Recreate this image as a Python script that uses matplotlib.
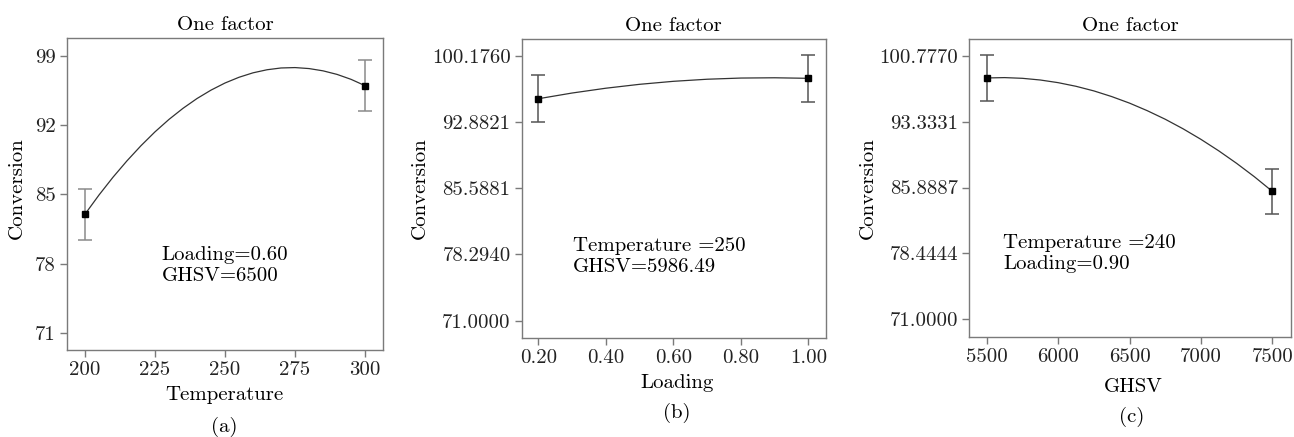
import numpy as np
import matplotlib
matplotlib.use("Agg")
import matplotlib.pyplot as plt

# =========================
# Data
# =========================
# (a) Temperature, Loading=0.60, GHSV=6500
temp_pts = [200, 300]
temp_conv = [83.0, 96.0]
temp_err = [2.6, 2.6]
temp_curve_x = [200, 205, 210, 215, 220, 225, 230, 235, 240, 245, 250,
                255, 260, 265, 270, 275, 280, 285, 290, 295, 300]
temp_curve_y = [83.00, 84.94, 86.74, 88.40, 89.93, 91.33, 92.59, 93.71, 94.70,
                95.55, 96.27, 96.85, 97.30, 97.61, 97.79, 97.83, 97.73, 97.50,
                97.14, 96.64, 96.00]
temp_yticks = [71, 78, 85, 92, 99]
temp_xticks = [200, 225, 250, 275, 300]

# (b) Loading, Temperature=250, GHSV=5986.49
load_pts = [0.20, 1.00]
load_conv = [95.44, 97.69]
load_err = [2.57, 2.57]
load_curve_x = [0.2, 0.3, 0.4, 0.5, 0.6, 0.7, 0.8, 0.9, 1.0]
load_curve_y = [95.44, 96.07, 96.60, 97.03, 97.36, 97.59, 97.72, 97.75, 97.69]
load_yticks = [71.0000, 78.2940, 85.5881, 92.8821, 100.1760]
load_xticks = [0.20, 0.40, 0.60, 0.80, 1.00]

# (c) GHSV, Temperature=240, Loading=0.90
ghsv_pts = [5500, 7500]
ghsv_conv = [98.26, 85.46]
ghsv_err = [2.56, 2.56]
ghsv_curve_x = [5500, 5625, 5750, 5875, 6000, 6125, 6250, 6375, 6500,
                6625, 6750, 6875, 7000, 7125, 7250, 7375, 7500]
ghsv_curve_y = [98.26, 98.30, 98.22, 98.03, 97.73, 97.32, 96.80, 96.16, 95.42,
                94.56, 93.60, 92.52, 91.33, 90.03, 88.62, 87.10, 85.46]
ghsv_yticks = [71.0000, 78.4444, 85.8887, 93.3331, 100.7770]
ghsv_xticks = [5500, 6000, 6500, 7000, 7500]

plt.rcParams["font.family"] = "serif"
plt.rcParams["font.serif"] = ["cmr10", "DejaVu Serif"]
plt.rcParams["mathtext.fontset"] = "cm"
plt.rcParams["axes.formatter.use_mathtext"] = True

W, H = 1294, 437
fig = plt.figure(figsize=(W / 100, H / 100), dpi=100)

FS = 15      # ticks, labels, title, notes
SPINE = "#7a7a7a"


def px_axes(l, t, r, b):
    return fig.add_axes([l / W, 1 - b / H, (r - l) / W, (b - t) / H])


def style(ax, xticks, xlabels, yticks, ylabels, xlim, ylim):
    ax.set_xlim(*xlim)
    ax.set_ylim(*ylim)
    ax.set_xticks(xticks)
    ax.set_xticklabels(xlabels)
    ax.set_yticks(yticks)
    ax.set_yticklabels(ylabels)
    for s in ax.spines.values():
        s.set_color(SPINE)
        s.set_linewidth(1.0)
    ax.tick_params(direction="out", length=5, width=1, color=SPINE,
                   labelsize=FS, labelcolor="#222222", pad=3)
    ax.set_title("One factor", fontsize=FS, pad=6)


def draw(ax, px, py, perr, cx, cy, ecolor):
    ax.plot(cx, cy, color="#333333", lw=0.9)
    ax.errorbar(px, py, yerr=perr, fmt="s", color="black", ms=4.5,
                ecolor=ecolor, elinewidth=1.1, capsize=5, capthick=1.1)


def note(ax, l, t, r, b, x, y1, y2, s1, s2):
    for y, s in ((y1, s1), (y2, s2)):
        ax.text((x - l) / (r - l), (b - y) / (b - t), s, transform=ax.transAxes,
                fontsize=FS, va="center", ha="left")


# (a)
ax1 = px_axes(67, 38, 383, 350)
draw(ax1, temp_pts, temp_conv, temp_err, temp_curve_x, temp_curve_y, "#8a8a8a")
style(ax1, temp_xticks, [str(v) for v in temp_xticks],
      temp_yticks, [str(v) for v in temp_yticks],
      (193.6, 306.4), (69.28, 100.82))
note(ax1, 67, 38, 383, 350, 161.7, 255, 276, "Loading=0.60", "GHSV=6500")

# (b)
ax2 = px_axes(521.7, 39, 826, 337.7)
draw(ax2, load_pts, load_conv, load_err, load_curve_x, load_curve_y, "#555555")
style(ax2, load_xticks, [f"{v:.2f}" for v in load_xticks],
      load_yticks, [f"{v:.4f}" for v in load_yticks],
      (0.151, 1.052), (69.13, 102.02))
note(ax2, 521.7, 39, 826, 337.7, 573.3, 245.7, 266.7,
     "Temperature =250", "GHSV=5986.49")

# (c)
ax3 = px_axes(969.3, 39, 1290.7, 336.7)
draw(ax3, ghsv_pts, ghsv_conv, ghsv_err, ghsv_curve_x, ghsv_curve_y, "#555555")
style(ax3, ghsv_xticks, [str(v) for v in ghsv_xticks],
      ghsv_yticks, [f"{v:.4f}" for v in ghsv_yticks],
      (5378, 7629), (69.04, 102.66))
note(ax3, 969.3, 39, 1290.7, 336.7, 1003.3, 243.3, 264.3,
     "Temperature =240", "Loading=0.90")


# axis labels and captions placed by pixel position
def ftext(x, y, s, **kw):
    fig.text(x / W, 1 - y / H, s, fontsize=FS, ha="center", va="center", **kw)


ftext(17, 188, "Conversion", rotation=90)
ftext(420, 188, "Conversion", rotation=90)
ftext(868, 188, "Conversion", rotation=90)

ftext(224, 395, "Temperature")
ftext(677, 383, "Loading")
ftext(1133, 387, "GHSV")

ftext(224, 427, "(a)")
ftext(677, 413, "(b)")
ftext(1132, 417, "(c)")

fig.savefig("out.png", dpi=100)
